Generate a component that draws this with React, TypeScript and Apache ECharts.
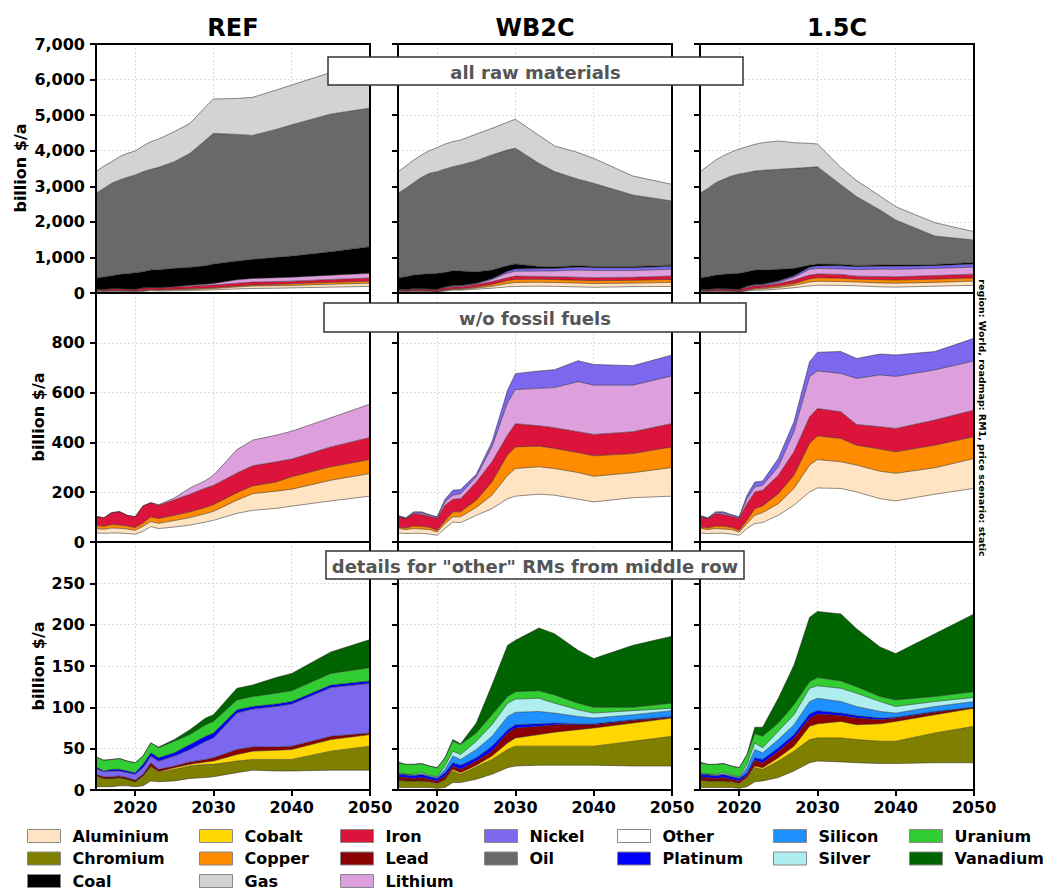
import React, { useEffect, useRef } from 'react';
import * as echarts from 'echarts';

const YEARS = [2015, 2016, 2017, 2018, 2019, 2020, 2021, 2022, 2023, 2025, 2027, 2029, 2030, 2033, 2035, 2038, 2040, 2045, 2050];
const SCENARIOS = ['REF', 'WB2C', '1.5C'];
const X_TICKS = [2020, 2030, 2040, 2050];
const Y_MAX = [7000, 1000, 300];
const Y_INTERVAL = [1000, 200, 50];
const BOX_TEXTS = ['all raw materials', 'w/o fossil fuels', 'details for "other" RMs from middle row'];
const Y_LABEL = 'billion $/a';
const SIDE_TEXT = 'region: World, roadmap: RM1, price scenario: static';

// ---- fossil fuels (billion $/a) ----
const refCoal = [328, 353, 369, 403, 436, 471, 455, 489, 506, 516, 505, 521, 547, 527, 537, 573, 595, 663, 748];
const refOil = [2371, 2492, 2596, 2651, 2708, 2745, 2811, 2829, 2876, 2999, 3204, 3533, 3673, 3561, 3484, 3597, 3690, 3868, 3898];
const refGas = [609, 628, 609, 656, 675, 675, 721, 778, 797, 843, 843, 937, 965, 1011, 1070, 1106, 1117, 1170, 1300];
const wbCoal = [324, 362, 385, 404, 433, 452, 409, 420, 407, 328, 245, 163, 142, 60, 45, 40, 35, 35, 30];
const wbOil = [2371, 2483, 2596, 2726, 2821, 2858, 2905, 2923, 2980, 3120, 3233, 3251, 3252, 2898, 2677, 2431, 2335, 2012, 1805];
const wbGas = [609, 628, 637, 628, 637, 674, 702, 703, 703, 749, 749, 778, 815, 787, 721, 750, 702, 534, 469];
const c15Coal = [324, 361, 385, 404, 433, 452, 412, 406, 402, 330, 210, 60, 50, 40, 35, 35, 35, 35, 40];
const c15Oil = [2371, 2483, 2596, 2670, 2746, 2792, 2783, 2783, 2801, 2811, 2811, 2748, 2739, 2240, 1938, 1543, 1266, 802, 632];
const c15Gas = [609, 628, 637, 665, 675, 703, 730, 749, 778, 797, 722, 675, 637, 485, 450, 394, 375, 375, 234];

// ---- main non-fossil raw materials ----
const refOther = [36, 35, 36, 36, 34, 31, 43, 62, 54, 60, 68, 80, 87, 115, 127, 135, 144, 165, 184];
const refAlu = [18, 16, 20, 19, 18, 16, 20, 20, 21, 26, 30, 34, 36, 53, 67, 69, 68, 83, 91];
const refCopper = [13, 12, 14, 13, 12, 11, 13, 19, 19, 21, 23, 25, 27, 30, 31, 37, 50, 54, 56];
const refIron = [36, 34, 48, 54, 43, 43, 69, 57, 54, 63, 71, 78, 77, 79, 81, 81, 71, 80, 89];
const refLithium = [0, 0, 0, 0, 0, 0, 0, 0, 2, 7, 25, 30, 41, 94, 103, 107, 112, 117, 134];

const wbOther = [36, 34, 35, 35, 32, 27, 54, 80, 78, 107, 134, 174, 184, 192, 188, 172, 161, 178, 184];
const wbAlu = [18, 16, 19, 17, 18, 13, 20, 21, 23, 32, 54, 94, 111, 110, 107, 107, 103, 100, 115];
const wbCopper = [6, 6, 10, 11, 9, 7, 11, 20, 20, 29, 53, 82, 87, 83, 81, 80, 82, 77, 83];
const wbIron = [41, 38, 49, 47, 44, 47, 63, 51, 53, 73, 81, 80, 93, 82, 83, 84, 86, 88, 94];
const wbLithium = [2, 0, 4, 5, 4, 3, 13, 16, 20, 21, 60, 130, 137, 150, 161, 201, 198, 187, 191];
const wbNickel = [4, 3, 4, 6, 3, 4, 11, 20, 17, 10, 20, 50, 64, 70, 72, 84, 83, 78, 84];

const c15Other = [36, 34, 35, 35, 32, 27, 54, 74, 78, 107, 148, 201, 217, 215, 201, 174, 165, 192, 215];
const c15Alu = [18, 16, 19, 17, 18, 13, 20, 33, 40, 47, 67, 108, 114, 107, 108, 110, 111, 106, 120];
const c15Copper = [6, 6, 10, 11, 9, 7, 13, 27, 27, 40, 53, 87, 95, 94, 80, 89, 86, 91, 88];
const c15Iron = [41, 38, 49, 47, 44, 47, 67, 67, 63, 74, 94, 107, 110, 107, 83, 90, 94, 101, 107];
const c15Lithium = [2, 0, 4, 5, 4, 3, 20, 20, 20, 34, 81, 161, 151, 154, 185, 208, 209, 201, 197];
const c15Nickel = [4, 3, 4, 6, 3, 4, 14, 20, 17, 33, 40, 60, 75, 88, 80, 84, 86, 74, 91];

// ---- details of "other" raw materials ----
const refOtherB = [4, 4, 4, 5, 5, 4, 5, 11, 10, 11, 14, 15, 16, 21, 24, 23, 23, 24, 24];
const refChromium = [12, 10, 10, 10, 8, 6, 12, 18, 11, 14, 15, 16, 15, 14, 13, 14, 14, 23, 29];
const refCobalt = [1, 0, 0, 0, 0, 0, 0, 0, 1, 2, 2, 3, 4, 8, 10, 11, 12, 14, 14];
const refLead = [2, 2, 2, 2, 2, 2, 2, 4, 3, 2, 3, 3, 4, 6, 5, 4, 4, 4, 2];
const refNickelB = [7, 6, 7, 6, 6, 7, 8, 8, 10, 12, 15, 22, 24, 44, 46, 49, 51, 59, 60];
const refPlatinum = [2, 1, 2, 2, 2, 2, 4, 4, 4, 4, 6, 6, 6, 4, 3, 3, 3, 3, 3];
const refUranium = [12, 13, 12, 13, 12, 12, 10, 12, 12, 14, 12, 14, 14, 12, 12, 13, 13, 14, 16];
const refVanadium = [0, 0, 0, 0, 0, 0, 0, 0, 1, 2, 6, 8, 8, 14, 14, 19, 21, 26, 34];

const wbOtherB = [3, 3, 3, 3, 3, 2, 3, 9, 9, 13, 19, 27, 29, 30, 30, 30, 30, 29, 29];
const wbChromium = [9, 8, 8, 8, 6, 5, 10, 14, 10, 15, 18, 22, 24, 23, 23, 23, 23, 30, 36];
const wbCobalt = [0, 0, 0, 0, 1, 1, 0, 2, 2, 2, 4, 8, 10, 14, 17, 20, 22, 22, 22];
const wbLead = [4, 4, 3, 4, 3, 3, 4, 4, 4, 5, 6, 12, 12, 10, 9, 6, 4, 3, 1];
const wbPlatinum = [3, 3, 3, 4, 3, 3, 4, 4, 5, 4, 6, 4, 4, 3, 2, 1, 1, 1, 1];
const wbSilicon = [1, 1, 1, 0, 1, 1, 4, 8, 7, 10, 12, 16, 15, 15, 12, 9, 7, 6, 7];
const wbSilver = [1, 0, 1, 2, 1, 1, 4, 6, 6, 10, 14, 16, 16, 16, 12, 8, 6, 5, 3];
const wbUranium = [12, 12, 12, 11, 11, 11, 10, 12, 12, 10, 12, 8, 9, 9, 10, 8, 7, 4, 6];
const wbVanadium = [1, 0, 0, 0, 0, 0, 0, 2, 1, 12, 36, 62, 62, 76, 74, 64, 59, 75, 81];

const c15OtherB = [3, 3, 3, 3, 3, 2, 4, 10, 11, 15, 23, 33, 35, 34, 33, 32, 32, 33, 33];
const c15Chromium = [9, 8, 8, 8, 6, 5, 10, 17, 14, 20, 24, 28, 28, 29, 28, 27, 27, 36, 44];
const c15Cobalt = [0, 0, 0, 0, 1, 1, 1, 2, 2, 4, 6, 16, 17, 20, 18, 21, 24, 22, 22];
const c15Lead = [4, 4, 3, 4, 3, 3, 3, 7, 6, 8, 10, 10, 12, 7, 8, 5, 4, 3, 1];
const c15Platinum = [3, 3, 3, 4, 3, 3, 3, 3, 4, 4, 4, 5, 4, 3, 3, 2, 1, 1, 0];
const c15Silicon = [1, 1, 1, 0, 1, 1, 6, 10, 8, 10, 12, 15, 15, 14, 11, 8, 5, 6, 7];
const c15Silver = [1, 0, 1, 2, 1, 1, 4, 8, 6, 10, 12, 16, 15, 16, 16, 12, 8, 6, 5];
const c15Uranium = [12, 12, 12, 11, 11, 11, 11, 11, 14, 10, 12, 8, 10, 9, 8, 6, 8, 6, 7];
const c15Vanadium = [1, 0, 0, 0, 0, 0, 1, 8, 11, 30, 48, 78, 80, 81, 70, 60, 56, 76, 94];

const COLORS: Record<string, string> = {
  Aluminium: '#FFE4C4', Chromium: '#808000', Coal: '#000000', Cobalt: '#FFD700', Copper: '#FF8C00',
  Gas: '#D3D3D3', Iron: '#DC143C', Lead: '#8B0000', Lithium: '#DDA0DD', Nickel: '#7B68EE',
  Oil: '#696969', Other: '#FFFFFF', Platinum: '#0000FF', Silicon: '#1E90FF', Silver: '#AFEEEE',
  Uranium: '#32CD32', Vanadium: '#006400',
};

const LEGEND_COLUMNS = [
  ['Aluminium', 'Chromium', 'Coal'],
  ['Cobalt', 'Copper', 'Gas'],
  ['Iron', 'Lead', 'Lithium'],
  ['Nickel', 'Oil'],
  ['Other', 'Platinum'],
  ['Silicon', 'Silver'],
  ['Uranium', 'Vanadium'],
];

type Stack = [string, number[]][];

const PANELS: Stack[][] = [
  // row 0: all raw materials
  [
    [['Other', refOther], ['Aluminium', refAlu], ['Copper', refCopper], ['Iron', refIron], ['Lithium', refLithium], ['Coal', refCoal], ['Oil', refOil], ['Gas', refGas]],
    [['Other', wbOther], ['Aluminium', wbAlu], ['Copper', wbCopper], ['Iron', wbIron], ['Lithium', wbLithium], ['Nickel', wbNickel], ['Coal', wbCoal], ['Oil', wbOil], ['Gas', wbGas]],
    [['Other', c15Other], ['Aluminium', c15Alu], ['Copper', c15Copper], ['Iron', c15Iron], ['Lithium', c15Lithium], ['Nickel', c15Nickel], ['Coal', c15Coal], ['Oil', c15Oil], ['Gas', c15Gas]],
  ],
  // row 1: w/o fossil fuels
  [
    [['Other', refOther], ['Aluminium', refAlu], ['Copper', refCopper], ['Iron', refIron], ['Lithium', refLithium]],
    [['Other', wbOther], ['Aluminium', wbAlu], ['Copper', wbCopper], ['Iron', wbIron], ['Lithium', wbLithium], ['Nickel', wbNickel]],
    [['Other', c15Other], ['Aluminium', c15Alu], ['Copper', c15Copper], ['Iron', c15Iron], ['Lithium', c15Lithium], ['Nickel', c15Nickel]],
  ],
  // row 2: details for other
  [
    [['Other', refOtherB], ['Chromium', refChromium], ['Cobalt', refCobalt], ['Lead', refLead], ['Nickel', refNickelB], ['Platinum', refPlatinum], ['Uranium', refUranium], ['Vanadium', refVanadium]],
    [['Other', wbOtherB], ['Chromium', wbChromium], ['Cobalt', wbCobalt], ['Lead', wbLead], ['Platinum', wbPlatinum], ['Silicon', wbSilicon], ['Silver', wbSilver], ['Uranium', wbUranium], ['Vanadium', wbVanadium]],
    [['Other', c15OtherB], ['Chromium', c15Chromium], ['Cobalt', c15Cobalt], ['Lead', c15Lead], ['Platinum', c15Platinum], ['Silicon', c15Silicon], ['Silver', c15Silver], ['Uranium', c15Uranium], ['Vanadium', c15Vanadium]],
  ],
];

const FONT = 'DejaVu Sans';
const GRID_LEFT = [96, 398, 700];
const GRID_TOP = [44, 293, 542];
const GRID_W = 274;
const GRID_H = [249, 249, 248];
const LEGEND_LEFT = [27, 199, 340, 484, 617, 773, 909];

function buildOption() {
  const grid: any[] = [];
  const xAxis: any[] = [];
  const yAxis: any[] = [];
  const series: any[] = [];
  const gridLine = { show: true, lineStyle: { color: '#d4d4d4', width: 0.8, type: [2, 2] } };
  for (let r = 0; r < 3; r++) {
    for (let c = 0; c < 3; c++) {
      const idx = r * 3 + c;
      grid.push({
        left: GRID_LEFT[c], top: GRID_TOP[r], width: GRID_W, height: GRID_H[r],
        show: true, borderColor: '#000', borderWidth: 2, backgroundColor: 'transparent', z: 10,
      });
      xAxis.push({
        gridIndex: idx, type: 'value', min: 2015, max: 2050,
        axisLine: { show: false },
        axisTick: { show: r === 2, customValues: X_TICKS, length: 6, lineStyle: { width: 2, color: '#000' } },
        axisLabel: {
          show: r === 2, customValues: X_TICKS, fontSize: 16, fontWeight: 'bold', fontFamily: FONT, color: '#000', margin: 9,
          formatter: (v: number) => String(v),
        },
        splitLine: gridLine,
      });
      yAxis.push({
        gridIndex: idx, type: 'value', min: 0, max: Y_MAX[r], interval: Y_INTERVAL[r],
        axisLine: { show: false },
        axisTick: { show: true, length: 6, lineStyle: { width: 2, color: '#000' } },
        axisLabel: {
          show: c === 0, showMaxLabel: r === 0, fontSize: 16, fontWeight: 'bold', fontFamily: FONT, color: '#000', margin: 11,
          formatter: (v: number) => v.toLocaleString('en-US'),
        },
        splitLine: gridLine,
      });
      PANELS[r][c].forEach(([name, values]) => {
        series.push({
          type: 'line', name, xAxisIndex: idx, yAxisIndex: idx, stack: 'panel' + idx,
          // value first so that the stack is computed on the value (y) dimension
          data: YEARS.map((y, i) => [values[i], y]),
          encode: { x: 1, y: 0 },
          symbol: 'none', showSymbol: false, silent: true,
          lineStyle: { width: 0.7, color: 'rgba(40,40,40,0.75)' },
          itemStyle: { color: COLORS[name] },
          areaStyle: { color: COLORS[name], opacity: 1 },
          emphasis: { disabled: true },
        });
      });
    }
  }

  const legend = LEGEND_COLUMNS.map((names, i) => ({
    type: 'plain', orient: 'vertical', left: LEGEND_LEFT[i], top: 828, height: 80, padding: 0,
    itemWidth: 33, itemHeight: 13, itemGap: 6.5, selectedMode: false, icon: 'rect',
    data: names.map((n) => ({ name: n, icon: 'rect', itemStyle: { color: COLORS[n], borderColor: '#888', borderWidth: 1, opacity: 1 } })),
    textStyle: { fontSize: 16, fontWeight: 'bold', fontFamily: FONT, color: '#000', lineHeight: 16, padding: [0, 0, 0, 7] },
  }));

  const graphic: any[] = [];
  SCENARIOS.forEach((s, c) => {
    graphic.push({
      type: 'text', x: GRID_LEFT[c] + GRID_W / 2, y: 28, z: 100,
      style: { text: s, font: `bold 24px "${FONT}"`, fill: '#000', align: 'center', verticalAlign: 'middle' },
    });
  });
  [[20, 168], [38, 417], [38, 666]].forEach(([x, y]) => {
    graphic.push({
      type: 'text', x, y, rotation: Math.PI / 2, z: 100,
      style: { text: Y_LABEL, font: `bold 16px "${FONT}"`, fill: '#000', align: 'center', verticalAlign: 'middle' },
    });
  });
  const boxes = [[328, 57, 415, 28], [324, 303, 422, 29], [326, 551, 418, 28]];
  boxes.forEach(([x, y, w, h], i) => {
    graphic.push({
      type: 'rect', z: 100, shape: { x, y, width: w, height: h },
      style: { fill: '#fff', stroke: '#333', lineWidth: 1.5 },
    });
    graphic.push({
      type: 'text', z: 101, x: x + w / 2, y: y + h / 2 + 1,
      style: { text: BOX_TEXTS[i], font: `bold 18px "${FONT}"`, fill: '#555', align: 'center', verticalAlign: 'middle' },
    });
  });
  graphic.push({
    type: 'text', x: 982, y: 418, rotation: -Math.PI / 2, z: 100,
    style: { text: SIDE_TEXT, font: `bold 9.5px "${FONT}"`, fill: '#000', align: 'center', verticalAlign: 'middle' },
  });

  return {
    animation: false,
    textStyle: { fontFamily: FONT },
    grid, xAxis, yAxis, series, legend, graphic,
  };
}

export default function App() {
  const ref = useRef<HTMLDivElement>(null);
  useEffect(() => {
    if (!ref.current) return;
    const chart = echarts.init(ref.current, undefined, { renderer: 'svg' });
    chart.setOption(buildOption() as any);
    return () => chart.dispose();
  }, []);
  return <div ref={ref} style={{ position: 'fixed', left: 0, top: 0, width: 1043, height: 890, background: '#fff' }} />;
}
